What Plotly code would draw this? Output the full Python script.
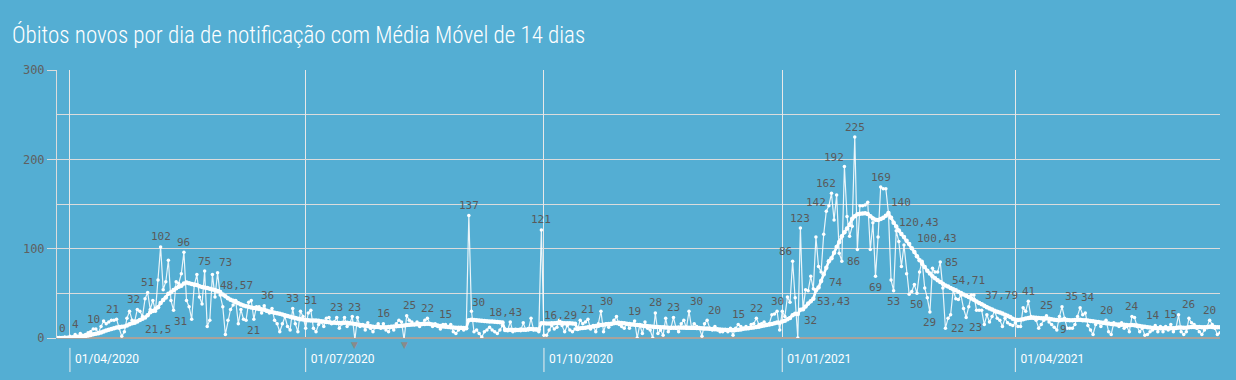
import plotly.graph_objects as go
import pandas as pd

# ---------------- data ----------------
START_DATE = "2020-03-27"

daily_2020_03 = [0, 0, 0, 1, 0]
daily_2020_04 = [2, 1, 4, 2, 5, 3, 4, 6, 7, 10, 10, 6, 13, 19, 16, 18, 20, 20, 21, 11,
                 2, 7, 22, 30, 20, 19, 32, 30, 24, 44]
daily_2020_05 = [51, 32, 42, 30, 65, 102, 54, 63, 87, 42, 31, 63, 61, 72, 96, 42, 35, 21, 59, 71,
                 46, 38, 75, 13, 20, 71, 46, 73, 48, 35, 4]
daily_2020_06 = [20, 32, 37, 42, 16, 32, 21, 20, 40, 42, 21, 35, 35, 28, 36, 30, 28, 33, 20, 16,
                 7, 16, 24, 13, 9, 33, 16, 7, 30, 24]
daily_2020_07 = [11, 28, 31, 11, 7, 15, 18, 13, 22, 23, 16, 18, 23, 11, 16, 23, 13, 16, 24, -2,
                 23, 13, 15, 9, 17, 11, 7, 13, 16, 11, 16]
daily_2020_08 = [9, 7, 13, 9, 16, 20, 18, -2, 25, 20, 18, 15, 18, 13, 16, 20, 22, 16, 13, 16,
                 13, 10, 15, 15, 12, 15, 7, 5, 9, 11, 9]
daily_2020_09 = [11, 137, 30, 7, 9, 5, 1, 7, 9, 12, 9, 7, 5, 9, 14, 10, 9, 18, 7, 8,
                 9, 8, 17, 9, 9, 22, 9, 9, 7, 121]
daily_2020_10 = [3, 3, 9, 14, 10, 12, 20, 14, 7, 14, 9, 7, 10, 10, 20, 16, 18, 21, 10, 14,
                 7, 16, 30, 7, 16, 12, 15, 20, 24, 15, 13]
daily_2020_11 = [11, 16, 11, 15, 19, 0, 15, 5, 18, 11, 9, 0, 28, 5, 9, 3, 22, 7, 11, 23,
                 11, 7, 16, 20, 11, 30, 11, 16, 13, 11]
daily_2020_12 = [2, 16, 20, 11, 9, 13, 9, 7, 7, 9, 7, 11, 3, 11, 15, 13, 11, 13, 11, 15,
                 16, 22, 15, 16, 18, 15, 16, 26, 27, 30, 9]
daily_2021_01 = [30, 24, 46, 40, 86, 45, 0, 123, 32, 54, 53, 69, 55, 113, 80, 74, 116, 142, 148, 162,
                 132, 160, 95, 86, 192, 136, 114, 125, 225, 99, 148]
daily_2021_02 = [148, 149, 152, 99, 129, 69, 113, 169, 167, 167, 140, 65, 53, 120, 108, 80, 104, 72, 49, 52,
                 60, 50, 74, 86, 56, 45, 29, 78]
daily_2021_03 = [74, 74, 85, 56, 11, 22, 26, 54, 44, 43, 48, 33, 23, 35, 48, 48, 31, 31, 31, 15,
                 26, 18, 24, 30, 22, 20, 13, 22, 17, 15, 14]
daily_2021_04 = [17, 13, 13, 34, 30, 41, 24, 22, 20, 11, 15, 20, 25, 18, 15, 12, 9, 24, 35, 22,
                 11, 11, 11, 15, 24, 34, 26, 28, 14, 9]
daily_2021_05 = [4, 15, 18, 13, 17, 20, 7, 4, 17, 15, 13, 17, 11, 13, 7, 24, 23, 13, 7, 11,
                 3, 4, 7, 9, 14, 7, 13, 7, 13, 9, 15]
daily_2021_06 = [7, 11, 26, 7, 4, 7, 22, 17, 15, 11, 7, 4, 9, 13, 20, 15, 11, 4, 6]

ma_2020_03 = [0, 0, 0.1, 0.1, 0.2]
ma_2020_04 = [0.4, 0.5, 0.8, 1.0, 1.3, 1.7, 2.1, 2.7, 3.3, 4.1, 4.8, 5.4, 6.2, 7.2, 8.3, 9.1, 10.1, 11.0, 11.8, 12.3,
              12.6, 12.9, 14.1, 15.4, 16.4, 17.2, 18.6, 20.1, 21.5, 23.0]
ma_2020_05 = [25.6, 28.8, 30.2, 32.6, 34.4, 39.1, 42.5, 45.4, 49.4, 51.1, 53.6, 55.8, 57.5, 58.4, 61.0, 62.0, 61.4, 60.5, 60.0, 59.3,
              58.0, 57.1, 56.6, 55.9, 55.0, 54.3, 53.6, 52.7, 51.4, 48.57, 46.8]
ma_2020_06 = [44.6, 42.9, 41.6, 40.3, 38.9, 37.5, 36.4, 35.6, 34.9, 34.2, 33.6, 32.9, 32.5, 32.1, 31.6, 30.4, 29.7, 29.1, 28.4, 27.8,
              27.1, 26.3, 25.4, 24.7, 23.8, 23.0, 22.3, 21.6, 21.0, 20.6]
ma_2020_07 = [20.1, 19.9, 19.7, 19.6, 19.5, 19.2, 18.8, 18.4, 18.0, 17.6, 17.2, 17.0, 16.9, 16.8, 16.9, 17.0, 17.0, 16.6, 16.1, 15.6,
              15.0, 14.6, 14.2, 13.8, 13.5, 13.1, 12.7, 12.4, 12.2, 12.0, 11.9]
ma_2020_08 = [12.0, 12.3, 12.6, 12.9, 13.2, 13.5, 13.8, 14.1, 14.5, 14.8, 15.0, 15.2, 15.4, 15.6, 15.7, 15.8, 16.0, 15.6, 15.2, 14.6,
              14.0, 13.4, 13.0, 12.6, 12.2, 12.0, 11.8, 11.6, 11.5, 11.4, 11.2]
ma_2020_09 = [11.0, 19.9, 20.5, 20.2, 19.9, 19.6, 19.3, 19.0, 18.8, 18.6, 18.43, 18.2, 17.9, 17.6, 17.3, 8.9, 8.8, 9.2, 9.0, 9.1,
              9.0, 9.4, 9.3, 9.3, 10.1, 10.0, 9.9, 9.8, 9.6, 16.5]
ma_2020_10 = [16.4, 16.3, 16.29, 16.5, 16.6, 16.8, 16.9, 16.7, 16.6, 16.5, 16.4, 16.2, 16.0, 10.2, 10.8, 11.3, 11.6, 12.0, 12.4, 12.9,
              13.3, 13.8, 14.6, 14.9, 15.3, 15.6, 16.0, 16.5, 16.8, 17.0, 16.8]
ma_2020_11 = [16.5, 16.0, 15.6, 15.2, 14.9, 14.6, 14.2, 13.8, 13.4, 13.1, 12.8, 12.6, 12.4, 12.2, 12.0, 11.9, 11.7, 11.6, 11.5, 11.5,
              11.6, 11.7, 11.8, 11.8, 11.7, 11.6, 11.5, 11.4, 11.3, 11.1]
ma_2020_12 = [10.9, 10.7, 10.5, 10.3, 10.1, 9.9, 9.7, 9.5, 9.3, 9.1, 9.0, 8.9, 8.9, 9.0, 9.2, 9.6, 10.3, 10.6, 11.0, 11.4,
              11.8, 12.3, 12.7, 13.3, 13.9, 14.5, 15.0, 15.6, 16.4, 17.3, 17.0]
ma_2021_01 = [18.6, 19.3, 21.0, 22.4, 25.6, 27.2, 27.0, 31.6, 32.1, 35.3, 38.5, 41.2, 43.9, 53.43, 56.5, 63.8, 71.5, 78.5, 86.0, 89.2,
              95.5, 102.0, 107.6, 113.9, 118.4, 122.5, 126.9, 133.6, 136.3, 138.5, 139.1]
ma_2021_02 = [139.3, 139.6, 138.8, 136.4, 133.9, 132.5, 132.0, 133.2, 134.5, 136.8, 140.0, 134.6, 128.9, 124.7, 120.43, 116.4, 113.0, 108.9, 105.2, 100.43,
              96.3, 91.6, 87.1, 83.2, 79.6, 75.4, 72.1, 69.0]
ma_2021_03 = [66.9, 64.6, 62.7, 60.7, 58.9, 57.6, 56.1, 54.71, 53.4, 51.9, 50.4, 48.8, 47.2, 45.9, 44.2, 42.7, 40.9, 39.2, 37.79, 36.1,
              34.5, 33.1, 31.9, 30.6, 29.5, 28.6, 27.4, 26.1, 24.9, 23.4, 21.6]
ma_2021_04 = [20.5, 20.1, 20.4, 21.0, 21.8, 22.3, 22.6, 22.9, 22.7, 22.4, 22.1, 22.2, 22.0, 21.6, 21.1, 20.5, 20.1, 19.9, 20.4, 20.6,
              20.2, 19.8, 19.9, 20.1, 20.4, 20.3, 20.0, 19.8, 19.6, 19.1]
ma_2021_05 = [18.8, 18.3, 17.8, 17.4, 17.0, 16.6, 16.2, 15.6, 15.3, 15.1, 15.0, 14.9, 14.7, 14.6, 14.4, 14.6, 14.3, 13.9, 13.4, 13.0,
              12.5, 12.1, 11.7, 11.3, 11.1, 10.9, 10.9, 10.8, 10.9, 10.8, 10.9]
ma_2021_06 = [11.0, 11.1, 11.8, 11.7, 11.6, 11.5, 12.1, 12.3, 12.4, 12.4, 12.3, 12.1, 12.0, 12.1, 12.5, 12.4, 12.2, 12.0, 11.9]

x_ticks = ["2020-04-01", "2020-07-01", "2020-10-01", "2021-01-01", "2021-04-01"]
y_ticks = [0, 100, 200, 300]

# annotated points: date and which series ("d" = daily, "m" = moving average)
label_dates = ["2020-03-29", "2020-04-03", "2020-04-10", "2020-04-19", "2020-04-27", "2020-05-01", "2020-05-06",
               "2020-05-15", "2020-05-23", "2020-05-28", "2020-04-29", "2020-05-11", "2020-05-30", "2020-06-11",
               "2020-06-15", "2020-06-26", "2020-07-03", "2020-07-13", "2020-07-21", "2020-07-31", "2020-08-09",
               "2020-08-17", "2020-08-24", "2020-09-02", "2020-09-03", "2020-09-11", "2020-09-30", "2020-10-03",
               "2020-10-18", "2020-10-23", "2020-11-05", "2020-11-13", "2020-11-20", "2020-11-26", "2020-12-03",
               "2020-12-15", "2020-12-22", "2020-12-30", "2021-01-05", "2021-01-08", "2021-01-09", "2021-01-14",
               "2021-01-16", "2021-01-18", "2021-01-20", "2021-01-25", "2021-01-24", "2021-01-29", "2021-02-08",
               "2021-02-11", "2021-02-06", "2021-02-13", "2021-02-15", "2021-02-20", "2021-02-22", "2021-02-27",
               "2021-03-03", "2021-03-06", "2021-03-08", "2021-03-13", "2021-03-19", "2021-04-06", "2021-04-13",
               "2021-04-17", "2021-04-19", "2021-04-26", "2021-05-06", "2021-05-16", "2021-05-25", "2021-05-31",
               "2021-06-03", "2021-06-15"]
label_series = ["d", "d", "d", "d", "d", "d", "d",
                "d", "d", "d", "m", "d", "m", "d",
                "d", "d", "d", "d", "d", "d", "d",
                "d", "d", "d", "d", "m", "d", "m",
                "d", "d", "d", "d", "d", "d", "d",
                "d", "d", "d", "d", "d", "d", "m",
                "d", "d", "d", "d", "d", "d", "d",
                "m", "d", "d", "m", "m", "d", "d",
                "d", "d", "m", "d", "m", "d", "d",
                "d", "d", "d", "d", "d", "d", "d",
                "d", "d"]

# label placement offsets in pixels (style only)
label_dx = [0, 0, 0, -4, -4, 0, 0,
            0, 0, 8, 16, 7, 14, 0,
            3, 0, 0, 0, -3, 0, 3,
            0, 0, 0, 7, 13, 0, 11,
            0, 6, 0, 0, 0, 7, 7,
            0, 0, 0, -7, 0, 8, 18,
            15, -10, -5, -10, 12, 0, 0,
            13, 0, 0, 20, 25, 0, 0,
            11, 9, 15, 9, 20, 0, 0,
            7, 9, 8, 0, 0, -2, 0,
            10, 0]
label_dy = [10, 10, 10, 10, 10, 10, 10,
            10, 10, 10, -11, -11, 9, -11,
            10, 10, 10, 10, 10, 10, 10,
            10, 10, 10, 9, 9, 10, 8,
            10, 10, 10, 10, 10, 10, 10,
            10, 10, 10, 10, 10, -11, -11,
            -11, 9, 10, 9, 0, 10, 10,
            10, -11, -11, 8, 10, -11, -10,
            0, -10, 9, -10, 9, 10, 10,
            0, 10, 10, 10, 10, 10, 10,
            10, 10]

# ---------------- assemble ----------------
daily = (daily_2020_03 + daily_2020_04 + daily_2020_05 + daily_2020_06 + daily_2020_07 + daily_2020_08
         + daily_2020_09 + daily_2020_10 + daily_2020_11 + daily_2020_12 + daily_2021_01 + daily_2021_02
         + daily_2021_03 + daily_2021_04 + daily_2021_05 + daily_2021_06)
ma = (ma_2020_03 + ma_2020_04 + ma_2020_05 + ma_2020_06 + ma_2020_07 + ma_2020_08
      + ma_2020_09 + ma_2020_10 + ma_2020_11 + ma_2020_12 + ma_2021_01 + ma_2021_02
      + ma_2021_03 + ma_2021_04 + ma_2021_05 + ma_2021_06)
assert len(daily) == len(ma), (len(daily), len(ma))
dates = pd.date_range(START_DATE, periods=len(daily), freq="D")

BG = "#54aed3"
GRID = "#dcdcdc"
LABEL_COLOR = "#5a5a5a"
MONO = "DejaVu Sans Mono, Liberation Mono, monospace"


def fmt(v):
    if float(v).is_integer():
        return str(int(v))
    return f"{v:.2f}".rstrip("0").rstrip(".").replace(".", ",")


fig = go.Figure()
fig.add_trace(go.Scatter(
    x=dates, y=daily, mode="lines+markers", name="Óbitos novos",
    line=dict(color="rgba(255,255,255,0.88)", width=1.2),
    marker=dict(color="white", size=3.5), hoverinfo="x+y",
))
fig.add_trace(go.Scatter(
    x=dates, y=ma, mode="lines+markers", name="Média Móvel 14 dias",
    line=dict(color="white", width=2.6),
    marker=dict(color="white", size=4.5), hoverinfo="x+y",
))

annotations = []
for d, s, dx, dy in zip(label_dates, label_series, label_dx, label_dy):
    idx = (pd.Timestamp(d) - dates[0]).days
    v = daily[idx] if s == "d" else ma[idx]
    annotations.append(dict(
        x=d, y=v, xref="x", yref="y", text=fmt(v), showarrow=False,
        xshift=dx, yshift=dy, font=dict(family=MONO, size=11, color=LABEL_COLOR),
    ))

# down-pointing markers for values below the axis
for d, v in zip(dates, daily):
    if v < 0:
        annotations.append(dict(
            x=d, y=0, xref="x", yref="y", text="▼", showarrow=False, yshift=-7,
            font=dict(family="DejaVu Sans", size=9, color="#8a8a8a"),
        ))

shapes = []
for t in x_ticks:
    shapes.append(dict(type="line", xref="x", yref="paper", x0=t, x1=t, y0=-0.037, y1=-0.127,
                       line=dict(color="#eeeeee", width=1)))

fig.update_layout(
    width=1236, height=380,
    paper_bgcolor=BG, plot_bgcolor=BG,
    margin=dict(l=57, r=16, t=70, b=42),
    showlegend=False,
    title=dict(
        text="Óbitos novos por dia de notificação com Média Móvel de 14 dias",
        font=dict(family="Roboto Condensed, Liberation Sans Narrow, DejaVu Sans Condensed, Roboto",
                  size=23, color="white", weight=300),
        x=12 / 1236, xanchor="left", xref="container",
        y=1 - 35 / 380, yanchor="middle", yref="container",
    ),
    xaxis=dict(
        type="date", range=[dates[0], dates[-1]],
        tickvals=x_ticks, tickformat="%d/%m/%Y",
        showgrid=True, gridcolor="#e8e8e8", gridwidth=1,
        ticks="", showline=False, zeroline=False,
        tickfont=dict(family="Roboto", size=12, color="white"),
        ticklabelshift=37, ticklabelstandoff=12,
    ),
    yaxis=dict(
        range=[0, 300], tickvals=y_ticks,
        showgrid=True, gridcolor=GRID, gridwidth=1,
        minor=dict(dtick=50, showgrid=True, gridcolor=GRID, gridwidth=1),
        ticks="outside", ticklen=9, tickcolor=GRID,
        showline=True, linecolor=GRID, linewidth=1,
        zeroline=True, zerolinecolor="#a9a39c", zerolinewidth=1.5,
        tickfont=dict(family=MONO, size=12, color="#606060"),
    ),
    annotations=annotations,
    shapes=shapes,
)

fig.write_html(
    "out.html",
    config={"displayModeBar": False},
    post_script="document.body.style.margin='0';document.body.style.background='" + BG + "';",
)
